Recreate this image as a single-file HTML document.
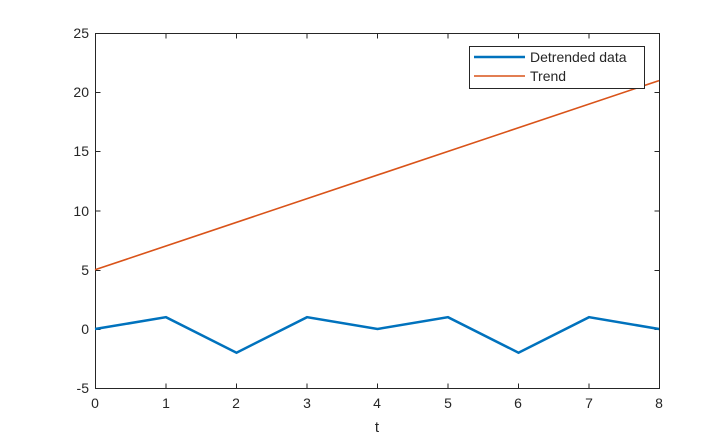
<!DOCTYPE html>
<html><head><style>body{margin:0;background:#fff}</style></head><body>
<svg width="728" height="438" xmlns="http://www.w3.org/2000/svg" font-family="Liberation Sans, sans-serif" font-size="14" fill="#262626">
<rect width="728" height="438" fill="#fff"/>
<g stroke="#262626" stroke-width="1" fill="none">
<rect x="95.5" y="33.5" width="564" height="355"/>
<path d="M95.5 33.5v-0 M166 388.5v-5 M236.5 388.5v-5 M307 388.5v-5 M377.5 388.5v-5 M448 388.5v-5 M518.5 388.5v-5 M589 388.5v-5
M166 33.5v5 M236.5 33.5v5 M307 33.5v5 M377.5 33.5v5 M448 33.5v5 M518.5 33.5v5 M589 33.5v5
M95.5 329.5h5 M95.5 270.5h5 M95.5 211h5 M95.5 151.5h5 M95.5 92.5h5
M659.5 329.5h-5 M659.5 270.5h-5 M659.5 211h-5 M659.5 151.5h-5 M659.5 92.5h-5"/>
</g>
<g text-anchor="middle">
<text x="95" y="408">0</text><text x="166" y="408">1</text><text x="236" y="408">2</text><text x="307" y="408">3</text><text x="377" y="408">4</text><text x="448" y="408">5</text><text x="518" y="408">6</text><text x="589" y="408">7</text><text x="659" y="408">8</text>
<text x="377" y="432" font-size="15">t</text>
</g>
<g text-anchor="end">
<text x="89" y="393">-5</text><text x="89" y="334">0</text><text x="89" y="275">5</text><text x="89" y="216">10</text><text x="89" y="156">15</text><text x="89" y="97">20</text><text x="89" y="38">25</text>
</g>
<polyline fill="none" stroke="#0072BD" stroke-width="2.5" points="95,329 166,317.2 236.5,352.7 307,317.2 377.5,329 448,317.2 518.5,352.7 589,317.2 659,329"/>
<line x1="95" y1="269.8" x2="659" y2="80.6" stroke="#D95319" stroke-width="1.6"/>
<rect x="469.5" y="46.5" width="175" height="42" fill="#fff" stroke="#262626"/>
<line x1="474" y1="57" x2="525" y2="57" stroke="#0072BD" stroke-width="2.5"/>
<line x1="474" y1="76" x2="525" y2="76" stroke="#D95319" stroke-width="1.6"/>
<text x="530" y="62">Detrended data</text>
<text x="530" y="81">Trend</text>
</svg>
</body></html>
